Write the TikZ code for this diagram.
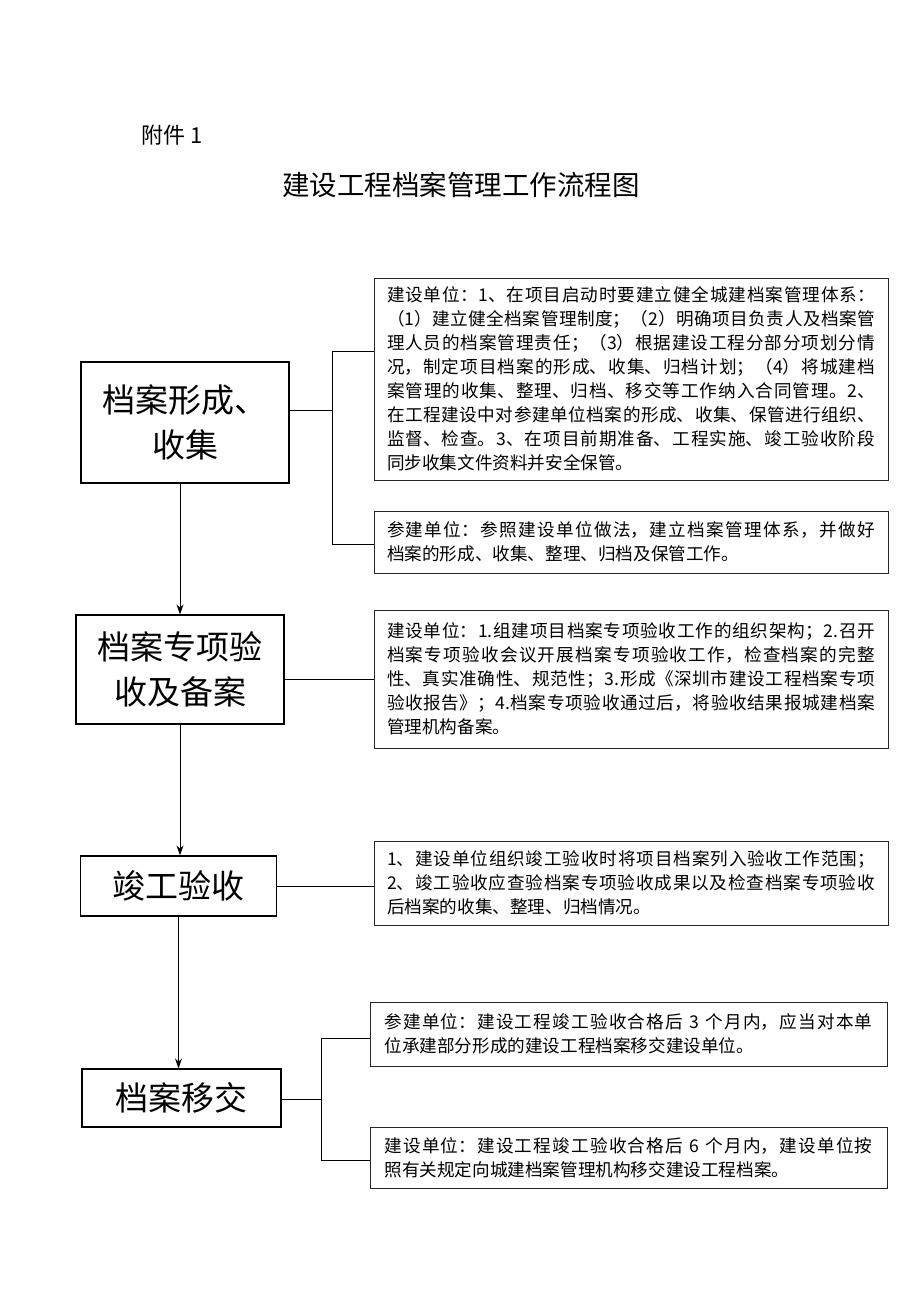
\documentclass[tikz,border=0pt]{standalone}
\usepackage{fontspec}
\setmainfont{Noto Sans CJK SC}
\usetikzlibrary{arrows.meta}
\XeTeXlinebreaklocale "zh"
\XeTeXlinebreakskip=0pt plus 1pt

\begin{document}
\begin{tikzpicture}[x=1pt,y=-1pt]
		% Define node styles
		\tikzstyle{stage} = [draw, line width=1.2pt, align=center, inner sep=0pt, font=\fontsize{33}{45}\selectfont];
		\tikzstyle{note} = [draw=black!85, line width=1pt, inner sep=0pt, minimum width=514pt, text width=488pt, align=justify, font=\fontsize{17.6}{24}\selectfont];
		\tikzstyle{flow} = [-{Stealth[length=10pt,width=7pt]}, line width=1pt];
		\tikzstyle{link} = [line width=0.8pt];
		\useasboundingbox (0,0) rectangle (920,1302);
		
		% Heading
		\node[font=\fontsize{22}{22}\selectfont] (annex) at (172,135) {附件 1};
		\node[font=\fontsize{27.5}{30}\selectfont] (title) at (461,185) {建设工程档案管理工作流程图};
		
		% Stages (left column)
		\node[stage, minimum width=208pt, minimum height=121pt] (form) at (185,422.5) {档案形成、\\收集};
		\node[stage, minimum width=208pt, minimum height=109pt] (check) at (180,669.5) {档案专项验\\收及备案};
		\node[stage, minimum width=196pt, minimum height=60pt] (accept) at (178.5,886) {竣工验收};
		\node[stage, minimum width=199pt, minimum height=58pt] (handover) at (181.5,1098) {档案移交};
		
		% Notes (right column)
		\node[note, minimum height=202pt] (formA) at (631,379) {建设单位：1、在项目启动时要建立健全城建档案管理体系：\linebreak
		（1）建立健全档案管理制度；（2）明确项目负责人及档案管\linebreak
		理人员的档案管理责任；（3）根据建设工程分部分项划分情\linebreak
		况，制定项目档案的形成、收集、归档计划；（4）将城建档\linebreak
		案管理的收集、整理、归档、移交等工作纳入合同管理。2、\linebreak
		在工程建设中对参建单位档案的形成、收集、保管进行组织、\linebreak
		监督、检查。3、在项目前期准备、工程实施、竣工验收阶段\linebreak
		同步收集文件资料并安全保管。};
		\node[note, minimum height=62pt] (formB) at (631,542) {参建单位：参照建设单位做法，建立档案管理体系，并做好\linebreak
		档案的形成、收集、整理、归档及保管工作。};
		\node[note, minimum height=138pt] (checkA) at (631,679) {建设单位：1.组建项目档案专项验收工作的组织架构；2.召开\linebreak
		档案专项验收会议开展档案专项验收工作，检查档案的完整\linebreak
		性、真实准确性、规范性；3.形成《深圳市建设工程档案专项\linebreak
		验收报告》；4.档案专项验收通过后，将验收结果报城建档案\linebreak
		管理机构备案。};
		\node[note, minimum height=84pt] (acceptA) at (631,883) {1、建设单位组织竣工验收时将项目档案列入验收工作范围；\linebreak
		2、竣工验收应查验档案专项验收成果以及检查档案专项验收\linebreak
		后档案的收集、整理、归档情况。};
		\node[note, minimum width=517pt, minimum height=64pt] (handA) at (628.5,1034) {参建单位：建设工程竣工验收合格后 3 个月内，应当对本单\linebreak
		位承建部分形成的建设工程档案移交建设单位。};
		\node[note, minimum width=517pt, minimum height=61pt] (handB) at (628.5,1157.5) {建设单位：建设工程竣工验收合格后 6 个月内，建设单位按\linebreak
		照有关规定向城建档案管理机构移交建设工程档案。};
		
		% Junction points of the brackets
		\coordinate (formMid) at (332,410);
		\coordinate (formTop) at (332,351);
		\coordinate (formBot) at (332,544);
		\coordinate (handMid) at (321,1099);
		\coordinate (handTop) at (321,1038);
		\coordinate (handBot) at (321,1160);
		
		% Flow arrows
		\draw[flow] (form.south -| check.north) -- (check.north);
		\draw[flow] (check.south) -- (check.south |- accept.north);
		\draw[flow] (accept.south) -- (accept.south |- handover.north);
		
		% Links to notes
		\draw[link] (form.east |- formMid) -- (formMid);
		\draw[link] (formTop -| formA.west) -- (formTop) -- (formBot) -- (formBot -| formB.west);
		\draw[link] (check.east |- checkA.west) -- (checkA.west);
		\draw[link] (accept.east) -- (accept.east -| acceptA.west);
		\draw[link] (handover.east |- handMid) -- (handMid);
		\draw[link] (handTop -| handA.west) -- (handTop) -- (handBot) -- (handBot -| handB.west);
	\end{tikzpicture}
\end{document}
